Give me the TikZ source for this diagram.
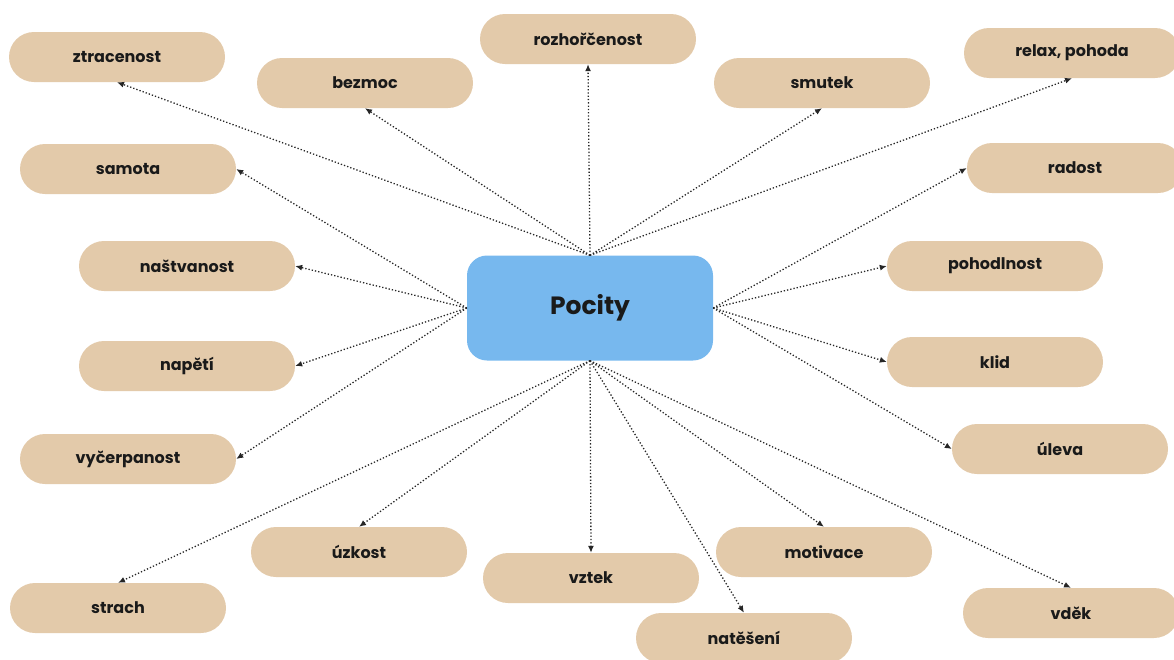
\documentclass[tikz,border=0pt]{standalone}
\usepackage{fontspec}
\setmainfont{Poppins}
\usetikzlibrary{arrows.meta}
\definecolor{pillTan}{HTML}{E3CAAA}
\definecolor{pocityBlue}{HTML}{77B8EE}
\definecolor{inkDark}{HTML}{1A1A1A}

\begin{document}
\begin{tikzpicture}[x=1pt,y=-1pt,>={Latex[length=7pt,width=6pt]},
  feel/.style={rounded corners=25pt, fill=pillTan, minimum width=216pt, minimum height=50pt,
    text=inkDark, font=\fontsize{16}{18}\selectfont\bfseries},
  link/.style={->, dotted, line width=1.3pt, black!85}]
\useasboundingbox (0,0) rectangle (1174,659);
\path
(590,308)  node[fill=pocityBlue, rounded corners=20pt, minimum width=246pt, minimum height=105pt,
  text=inkDark, font=\fontsize{25}{28}\selectfont\bfseries] (pocity) {Pocity}
% top row
(117,57)   node[feel] (ztracenost) {ztracenost}
(365,83)   node[feel] (bezmoc) {bezmoc}
(588,39)   node[feel] (rozhorcenost) {rozhořčenost}
(822,83)   node[feel] (smutek) {smutek}
(1072,53)  node[feel] (relax) {relax, pohoda}
% left column
(128,169)  node[feel] (samota) {samota}
(187,266)  node[feel] (nastvanost) {naštvanost}
(187,366)  node[feel] (napeti) {napětí}
(128,459)  node[feel] (vycerpanost) {vyčerpanost}
% right column
(1075,168) node[feel] (radost) {radost}
(995,266)  node[feel] (pohodlnost) {pohodlnost}
(995,362)  node[feel] (klid) {klid}
(1060,449) node[feel] (uleva) {úleva}
% bottom row
(118,608)  node[feel] (strach) {strach}
(359,552)  node[feel] (uzkost) {úzkost}
(591,578)  node[feel] (vztek) {vztek}
(744,638)  node[feel] (natešeni) {natěšení}
(824,552)  node[feel] (motivace) {motivace}
(1071,613) node[feel] (vdek) {vděk};

\draw[link] (pocity.north)--(ztracenost.south);
\draw[link] (pocity.north)--(bezmoc.south);
\draw[link] (pocity.north)--(rozhorcenost.south);
\draw[link] (pocity.north)--(smutek.south);
\draw[link] (pocity.north)--(relax.south);

\draw[link] (pocity.west)--(samota.east);
\draw[link] (pocity.west)--(nastvanost.east);
\draw[link] (pocity.west)--(napeti.east);
\draw[link] (pocity.west)--(vycerpanost.east);

\draw[link] (pocity.east)--(radost.west);
\draw[link] (pocity.east)--(pohodlnost.west);
\draw[link] (pocity.east)--(klid.west);
\draw[link] (pocity.east)--(uleva.west);

\draw[link] (pocity.south)--(strach.north);
\draw[link] (pocity.south)--(uzkost.north);
\draw[link] (pocity.south)--(vztek.north);
\draw[link] (pocity.south)--(natešeni.north);
\draw[link] (pocity.south)--(motivace.north);
\draw[link] (pocity.south)--(vdek.north);
\end{tikzpicture}
\end{document}
